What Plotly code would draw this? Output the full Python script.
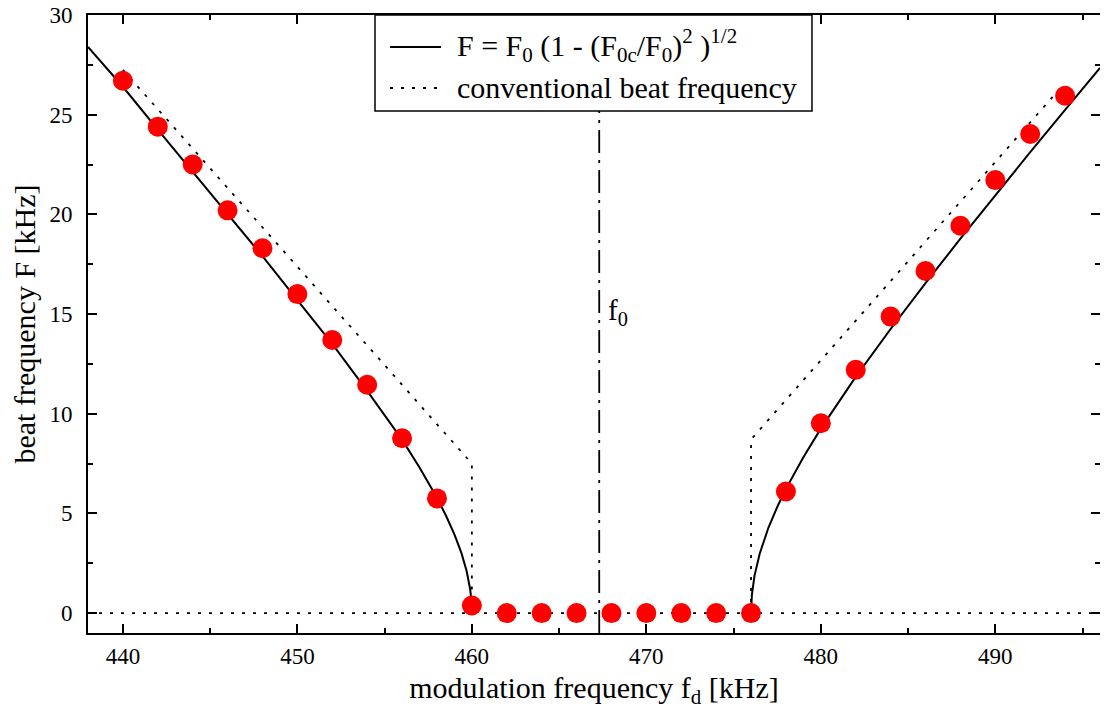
import plotly.graph_objects as go

# measured points
meas_x = [440, 442, 444, 446, 448, 450, 452, 454, 456, 458, 460,
          462, 464, 466, 468, 470, 472, 474, 476,
          478, 480, 482, 484, 486, 488, 490, 492, 494]
meas_y = [26.7, 24.4, 22.5, 20.2, 18.3, 16.0, 13.7, 11.45, 8.77, 5.75, 0.38,
          0, 0, 0, 0, 0, 0, 0, 0,
          6.1, 9.52, 12.2, 14.87, 17.16, 19.43, 21.72, 24.03, 25.95]

# theory curve, left branch
fit_left_x = [438, 440, 442, 444, 446, 448, 450, 452, 454, 456, 457, 458,
              458.5, 459, 459.4, 459.7, 459.9, 459.97, 460]
fit_left_y = [28.4, 26.4, 24.25, 22.15, 20.02, 17.9, 15.7, 13.5, 11.15, 8.7, 7.3, 5.78,
              4.92, 3.95, 3.02, 2.11, 1.21, 0.66, 0]
# theory curve, right branch
fit_right_x = [476, 476.05, 476.2, 476.5, 477, 477.5, 478, 479, 480, 482, 484,
               486, 488, 490, 492, 494, 496]
fit_right_y = [0, 0.93, 1.88, 2.99, 4.29, 5.32, 6.23, 7.82, 9.25, 11.85, 14.25,
               16.55, 18.78, 20.97, 23.12, 25.24, 27.35]

# conventional beat frequency
conv_left_x = [440, 460, 460]
conv_left_y = [27.25, 7.5, 0]
conv_right_x = [476, 476, 494]
conv_right_y = [0, 8.7, 26.6]
zero_x = [438, 496]
zero_y = [0, 0]

f0_x = 467.3
f0_line_y = [-1, 25.2]

x_ticks = [440, 450, 460, 470, 480, 490]
y_ticks = [0, 5, 10, 15, 20, 25, 30]

legend_labels = [
    "F = F<sub>0</sub> (1 - (F<sub>0c</sub>/F<sub>0</sub>)<sup>2</sup> )<sup>1/2</sup>",
    "conventional beat frequency",
]

FONT = "Liberation Serif"
DOT = "3px,8px"
DASHDOT = "23px,7px,3px,7px"

fig = go.Figure()

fig.add_trace(go.Scatter(
    x=fit_left_x + [None] + fit_right_x,
    y=fit_left_y + [None] + fit_right_y,
    mode="lines", line=dict(color="black", width=2),
    name=legend_labels[0], showlegend=False,
))
fig.add_trace(go.Scatter(
    x=conv_left_x + [None] + conv_right_x,
    y=conv_left_y + [None] + conv_right_y,
    mode="lines", line=dict(color="black", width=1.8, dash=DOT),
    name=legend_labels[1], showlegend=False,
))
fig.add_trace(go.Scatter(
    x=zero_x, y=zero_y, mode="lines",
    line=dict(color="black", width=1.8, dash=DOT), showlegend=False,
))
fig.add_trace(go.Scatter(
    x=[f0_x, f0_x], y=f0_line_y, mode="lines",
    line=dict(color="black", width=1.8, dash=DASHDOT), showlegend=False,
))
fig.add_trace(go.Scatter(
    x=meas_x, y=meas_y, mode="markers",
    marker=dict(color="#ff0000", size=20, line=dict(width=0)), showlegend=False,
))

fig.add_annotation(x=f0_x, y=15.1, text="f<sub>0</sub>", showarrow=False,
                   xanchor="left", xshift=7, font=dict(family=FONT, size=29, color="black"))

# legend box (drawn by hand to match the reference's long line samples)
LX0, LX1, LY0, LY1 = 0.2836, 0.7154, 0.8447, 1.0
fig.add_shape(type="rect", xref="paper", yref="paper", x0=LX0, x1=LX1, y0=LY0, y1=LY1,
              line=dict(color="black", width=1.5), fillcolor="white", layer="above")
row_y = [0.9482, 0.8819]
sample_x0, sample_x1, text_x = 0.2984, 0.3488, 0.3626
fig.add_shape(type="line", xref="paper", yref="paper", x0=sample_x0, x1=sample_x1,
              y0=row_y[0], y1=row_y[0], line=dict(color="black", width=2), layer="above")
fig.add_shape(type="line", xref="paper", yref="paper", x0=sample_x0, x1=sample_x1,
              y0=row_y[1], y1=row_y[1], line=dict(color="black", width=1.8, dash=DOT), layer="above")
fig.add_annotation(x=text_x, y=row_y[0], xref="paper", yref="paper", text=legend_labels[0],
                   showarrow=False, xanchor="left", yanchor="middle", yshift=2,
                   font=dict(family=FONT, size=30, color="black"))
fig.add_annotation(x=text_x, y=row_y[1], xref="paper", yref="paper", text=legend_labels[1],
                   showarrow=False, xanchor="left", yanchor="middle", yshift=0,
                   font=dict(family=FONT, size=30, color="black"))

axis_common = dict(
    showline=True, linecolor="black", linewidth=2, mirror="allticks",
    ticks="inside", ticklen=9, tickwidth=1.6, tickcolor="black",
    showgrid=False, zeroline=False, automargin=False,
    ticklabeloverflow="allow",
    tickfont=dict(family=FONT, size=23, color="black"),
)

# the page body adds an 8px offset, so the figure is 8px smaller on each axis
fig.update_layout(
    width=1100, height=706,
    margin=dict(l=80, r=8, t=7, b=81),
    paper_bgcolor="white", plot_bgcolor="white",
    font=dict(family=FONT, color="black"),
    xaxis=dict(range=[438, 496], tickvals=x_ticks, ticklabelstandoff=1,
               minor=dict(dtick=5, tick0=435, ticks="inside", ticklen=5, tickwidth=1.6, tickcolor="black"),
               title=dict(text="modulation frequency f<sub>d</sub> [kHz]",
                          font=dict(family=FONT, size=30), standoff=9),
               **axis_common),
    yaxis=dict(range=[-1, 30], tickvals=y_ticks, ticklabelstandoff=9,
               minor=dict(dtick=2.5, tick0=0, ticks="inside", ticklen=5, tickwidth=1.6, tickcolor="black"),
               title=dict(text="beat frequency F [kHz]",
                          font=dict(family=FONT, size=30), standoff=16),
               **axis_common),
    showlegend=False,
)

fig.write_html("out.html")
